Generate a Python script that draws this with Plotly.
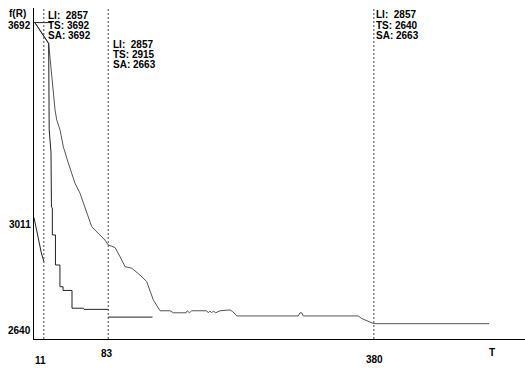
import plotly.graph_objects as go

# ---- data -------------------------------------------------------------
# Local improvement (LI): runs from the start until iteration 11
LI_T = [0, 2, 5, 8, 11]
LI_V = [3011, 2980, 2929, 2890, 2857]

# Value of the initial solution
INIT_T = [0, 20]
INIT_V = [3692, 3692]

# Tabu search (TS)
TS_T = [1, 16.4, 23.5, 25.4, 29.1, 32.8, 38.4, 45.8, 51.4, 57, 64.5, 68.2, 73.8, 79.4,
        83, 90.6, 96.2, 101.8, 109.2, 118.5, 126, 129.7, 133.4, 140.9, 152.1, 155.8,
        170, 171.4, 173.7, 176.3, 193.1, 194.9, 196.8, 198.7, 200.5, 203.2, 206.1, 208,
        219.2, 222.2, 226.7, 295.5, 297.4, 299.3, 301.1, 362.6, 366.4, 380, 509]
TS_V = [3692, 3619, 3387, 3352, 3317, 3258, 3201, 3131, 3096, 3049, 2979, 2967, 2950, 2932,
        2915, 2906, 2874, 2839, 2834, 2810, 2787, 2758, 2723, 2685, 2685, 2678,
        2678, 2685, 2678, 2685, 2685, 2678, 2684, 2678, 2684, 2678, 2684, 2685,
        2688, 2682, 2667, 2667, 2678, 2678, 2667, 2667, 2658, 2640, 2640]

# Simulated annealing (SA): descent until iteration 83, then the final plateau
SA_T = [1, 16.4, 17, 18, 19, 19.5, 20.5, 20.5, 24, 24, 29, 29, 32.5, 32.5, 42.5, 42.5,
        55, 56, 83, None, 83, 132.5]
SA_V = [3692, 3619, 3317, 3254, 3240, 3048, 3044, 2950, 2950, 2845, 2845, 2769, 2769, 2756,
        2756, 2694, 2694, 2690, 2690, None, 2663, 2663]

# Checkpoints and the best values reached there
MARK_T = [11, 83, 380]
MARK_LI = [2857, 2857, 2857]
MARK_TS = [3692, 2915, 2640]
MARK_SA = [3692, 2663, 2663]

Y_TICKS = [3692, 3011, 2640]

# ---- layout constants -------------------------------------------------
W, H = 525, 371
ML, MR, MT, MB = 34, 0, 8, 32
X_RANGE = [0, 549]
Y_RANGE = [2586.4, 3743]
PLOT_H = H - MT - MB

FONT = dict(family="Liberation Sans, Arial, sans-serif", size=10, color="#000000", weight="bold")


def paper_y(py):
    """Vertical page pixel -> paper fraction of the plotting area."""
    return (H - MB - py) / PLOT_H


fig = go.Figure()

line_common = dict(mode="lines", hoverinfo="skip", showlegend=False)
fig.add_trace(go.Scatter(x=INIT_T, y=INIT_V, line=dict(color="#222222", width=1), **line_common))
fig.add_trace(go.Scatter(x=LI_T, y=LI_V, line=dict(color="#222222", width=1), **line_common))
fig.add_trace(go.Scatter(x=TS_T, y=TS_V, line=dict(color="#555555", width=1), **line_common))
fig.add_trace(go.Scatter(x=SA_T, y=SA_V, line=dict(color="#222222", width=1),
                         connectgaps=False, **line_common))

# dotted checkpoint markers
for t in MARK_T:
    fig.add_shape(type="line", xref="x", yref="paper", x0=t, x1=t, y0=0, y1=1,
                  line=dict(color="#444444", width=1, dash="2px,2px"))

annotations = []

# checkpoint value blocks
block_rows = {11: [15, 25, 35], 83: [44.3, 54.3, 64.3], 380: [14.5, 25, 35.5]}
block_shift = {11: 3, 83: 3.5, 380: 1.5}
for t, li, ts, sa in zip(MARK_T, MARK_LI, MARK_TS, MARK_SA):
    texts = [f"LI:\u00a0\u00a0{li}", f"TS: {ts}", f"SA: {sa}"]
    for txt, py in zip(texts, block_rows[t]):
        annotations.append(dict(x=t, xref="x", y=paper_y(py), yref="paper", text=txt,
                                showarrow=False, xanchor="left", yanchor="middle",
                                xshift=block_shift[t], borderpad=0, font=FONT))

# y value labels
y_label_px = {3692: 25, 3011: 224, 2640: 330}
for v in Y_TICKS:
    annotations.append(dict(x=0, xref="paper", y=paper_y(y_label_px[v]), yref="paper",
                            text=str(v), showarrow=False, xanchor="right", yanchor="middle",
                            xshift=-2, borderpad=0, font=FONT))

# x value labels (staggered rows)
x_label = {11: (360, -3), 83: (353, -1), 380: (359.5, 1)}
for t in MARK_T:
    py, dx = x_label[t]
    annotations.append(dict(x=t, xref="x", y=paper_y(py), yref="paper", text=str(t),
                            showarrow=False, xanchor="center", yanchor="middle",
                            xshift=dx, borderpad=0, font=FONT))

annotations.append(dict(x=(491.7 - ML) / (W - ML - MR), xref="paper", y=paper_y(352.7),
                        yref="paper", text="T", showarrow=False, xanchor="center",
                        yanchor="middle", borderpad=0, font=FONT))
annotations.append(dict(x=(17.5 - ML) / (W - ML - MR), xref="paper", y=paper_y(13.3),
                        yref="paper", text="f(R)", showarrow=False, xanchor="center",
                        yanchor="middle", borderpad=0, font=FONT))

fig.update_layout(
    width=W, height=H,
    margin=dict(l=ML, r=MR, t=MT, b=MB, pad=0),
    paper_bgcolor="#ffffff", plot_bgcolor="#ffffff",
    showlegend=False,
    annotations=annotations,
    xaxis=dict(range=X_RANGE, showgrid=False, zeroline=False, showticklabels=False,
               ticks="", showline=True, linecolor="#000000", linewidth=1, fixedrange=True),
    yaxis=dict(range=Y_RANGE, showgrid=False, zeroline=False, showticklabels=False,
               ticks="", showline=True, linecolor="#000000", linewidth=1, fixedrange=True),
)

fig.write_html("out.html", config={"displayModeBar": False})
